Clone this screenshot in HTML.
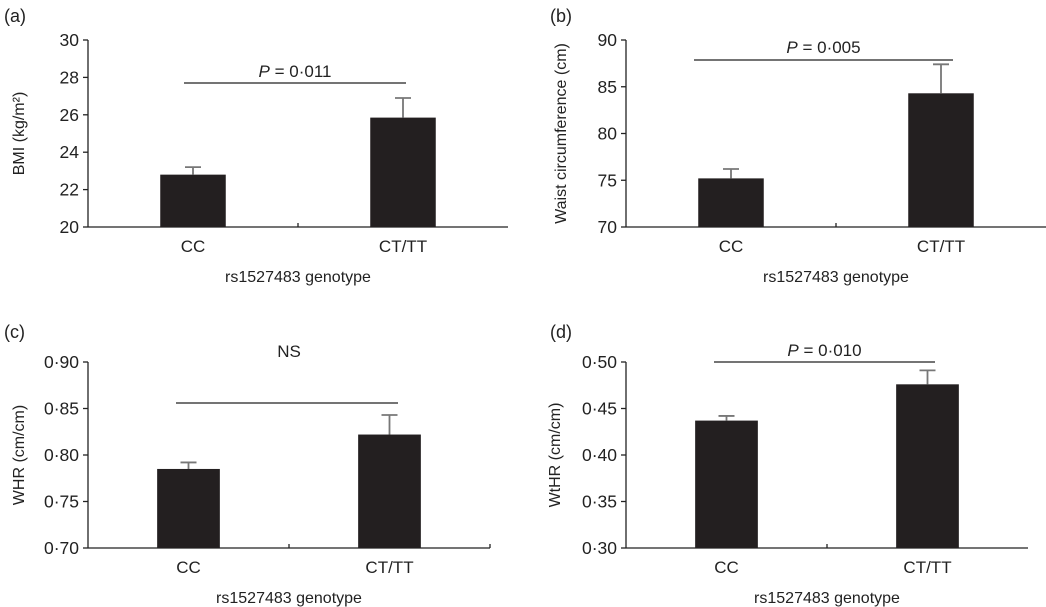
<!DOCTYPE html>
<html><head><meta charset="utf-8"><style>
body{margin:0;background:#fff;}
svg{display:block;font-family:"Liberation Sans",Arial,sans-serif;}
</style></head><body>
<svg id="fig" width="1046" height="607" viewBox="0 0 1046 607"></svg>
<script>
const categories = ["CC","CT/TT"];
const bmiValues = [22.8, 25.85];
const bmiErrors = [23.2, 26.9];
const bmiTicks = ["20","22","24","26","28","30"];
const waistValues = [75.2, 84.3];
const waistErrors = [76.2, 87.4];
const waistTicks = ["70","75","80","85","90"];
const whrValues = [0.785, 0.822];
const whrErrors = [0.792, 0.843];
const whrTicks = ["0·70","0·75","0·80","0·85","0·90"];
const wthrValues = [0.437, 0.476];
const wthrErrors = [0.442, 0.491];
const wthrTicks = ["0·30","0·35","0·40","0·45","0·50"];

const NS="http://www.w3.org/2000/svg";
const svg=document.getElementById('fig');
function mk(tag,attrs,parent){const e=document.createElementNS(NS,tag);for(const k in attrs)e.setAttribute(k,attrs[k]);(parent||svg).appendChild(e);return e;}
function txt(s,x,y,attrs,parent){const t=mk('text',Object.assign({x:x,y:y,'font-size':16,fill:'#222'},attrs||{}),parent);t.textContent=s;return t;}

function panel(cfg){
  const g=mk('g',{});
  
  
  const yv=v=>cfg.y1-(v-cfg.min)/(cfg.max-cfg.min)*(cfg.y1-cfg.y0);
  const lbl=txt(cfg.letter,cfg.lx,cfg.ly,{'font-size':18},g);
  
  
  const ax=mk('line',{x1:cfg.x0,y1:cfg.y0,x2:cfg.x0,y2:cfg.y1,stroke:'#222','stroke-width':1.3},g);
  
  
  const xa=mk('line',{x1:cfg.x0,y1:cfg.y1,x2:cfg.x1,y2:cfg.y1,stroke:'#222','stroke-width':1.3},g);
  
  
  const mid=(cfg.x0+cfg.x1)/2;
  mk('line',{x1:mid,y1:cfg.y1,x2:mid,y2:cfg.y1-4,stroke:'#222','stroke-width':1.3},g);
  if(cfg.endTick) mk('line',{x1:cfg.x1,y1:cfg.y1,x2:cfg.x1,y2:cfg.y1-4,stroke:'#222','stroke-width':1.3},g);
  cfg.ticks.forEach((t,i)=>{
    const y=cfg.y1-i*(cfg.y1-cfg.y0)/(cfg.ticks.length-1);
    mk('line',{x1:cfg.x0-5,y1:y,x2:cfg.x0,y2:y,stroke:'#222','stroke-width':1.3},g);
    const tl=txt(t,cfg.x0-9,y+6,{'text-anchor':'end','font-size':17.5},g);
    
    
  });
  const yt=txt(cfg.ytitle,0,0,{'text-anchor':'middle','font-size':16,transform:`translate(${cfg.ytx},${(cfg.y0+cfg.y1)/2}) rotate(-90)`},g);
  
  
  const bw=(cfg.x1-cfg.x0)*0.156;
  categories.forEach((c,i)=>{
    const cx=cfg.x0+(cfg.x1-cfg.x0)*(0.25+0.5*i);
    const top=yv(cfg.values[i]);
    const b=mk('rect',{x:cx-bw/2,y:top,width:bw,height:cfg.y1-top,fill:'#231f20'},g);
    
    
    const ey=yv(cfg.errors[i]);
    const e=mk('path',{d:`M${cx},${top} V${ey} M${cx-8},${ey} H${cx+8}`,stroke:'#777','stroke-width':1.8,fill:'none'},g);
    
    
    const xl=txt(c,cx,cfg.y1+25,{'text-anchor':'middle','font-size':17},g);
    
    
  });
  const xt=txt('rs1527483 genotype',mid,cfg.y1+55,{'text-anchor':'middle','font-size':16},g);
  
  
  const sl=mk('line',{x1:cfg.sx0,y1:cfg.sy,x2:cfg.sx1,y2:cfg.sy,stroke:'#222','stroke-width':1.2},g);
  
  
  const st=mk('text',{x:cfg.stx||(cfg.sx0+cfg.sx1)/2,y:cfg.sty,'text-anchor':'middle','font-size':17,fill:'#222'},g);
  
  
  if(cfg.p){const i=mk('tspan',{'font-style':'italic'},st);i.textContent='P';const r=mk('tspan',{},st);r.textContent=' = '+cfg.p;}
  else st.textContent='NS';
}
panel({name:'panel-a-bmi',letter:'(a)',lx:4,ly:22,x0:88,x1:508,y0:40,y1:227,min:20,max:30,ticks:bmiTicks,values:bmiValues,errors:bmiErrors,ytitle:'BMI (kg/m²)',ytx:24,sx0:184,sx1:406,sy:83,sty:77,p:'0·011'});
panel({name:'panel-b-waist',letter:'(b)',lx:550,ly:22,x0:626,x1:1046,y0:40,y1:227,min:70,max:90,ticks:waistTicks,values:waistValues,errors:waistErrors,ytitle:'Waist circumference (cm)',ytx:566,sx0:694,sx1:953,sy:60,sty:53,p:'0·005'});
panel({name:'panel-c-whr',letter:'(c)',lx:4,ly:338,x0:88,x1:490,y0:362,y1:548,endTick:true,min:0.70,max:0.90,ticks:whrTicks,values:whrValues,errors:whrErrors,ytitle:'WHR (cm/cm)',ytx:24,sx0:176,sx1:398,sy:403,sty:357,stx:289,p:null});
panel({name:'panel-d-wthr',letter:'(d)',lx:550,ly:338,x0:626,x1:1028,y0:362,y1:548,min:0.30,max:0.50,ticks:wthrTicks,values:wthrValues,errors:wthrErrors,ytitle:'WtHR (cm/cm)',ytx:560,sx0:714,sx1:935,sy:362,sty:356,p:'0·010'});
</script>
</body></html>
